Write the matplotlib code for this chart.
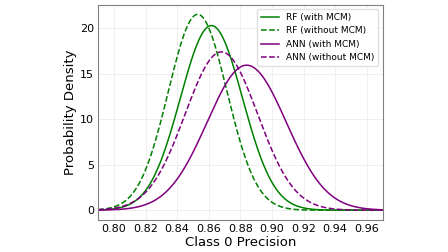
import numpy as np
import matplotlib
matplotlib.use("Agg")
import matplotlib.pyplot as plt

# fitted normal parameters (mean, std)
labels = ["RF (with MCM)", "RF (without MCM)", "ANN (with MCM)", "ANN (without MCM)"]
means = [0.8617, 0.8530, 0.8840, 0.8680]
stds = [0.01969, 0.01856, 0.02507, 0.02297]
colors = ["green", "green", "purple", "purple"]
styles = ["-", "--", "-", "--"]

x = np.linspace(0.79, 0.97, 400)

fig = plt.figure(figsize=(4.48, 2.52), dpi=100)
ax = fig.add_axes([0.219, 0.127, 0.635, 0.855])

for lab, m, s, c, ls in zip(labels, means, stds, colors, styles):
    pdf = np.exp(-0.5 * ((x - m) / s) ** 2) / (s * np.sqrt(2 * np.pi))
    ax.plot(x, pdf, color=c, linestyle=ls, linewidth=1.1, label=lab)

ax.set_xlim(0.79, 0.97)
ax.set_xticks(np.arange(0.80, 0.961, 0.02))
ax.set_yticks([0, 5, 10, 15, 20])
ax.tick_params(labelsize=8, length=0, pad=3)
ax.set_xlabel("Class 0 Precision", fontsize=9.5, labelpad=1)
ax.set_ylabel("Probability Density", fontsize=9.5, labelpad=2)
ax.grid(True, color="#ededed", linewidth=0.6)
for sp in ax.spines.values():
    sp.set_color("#808080")
ax.legend(fontsize=6.5, loc="upper right", framealpha=1, edgecolor="#e0e0e0")

fig.savefig("out.png", dpi=100)
